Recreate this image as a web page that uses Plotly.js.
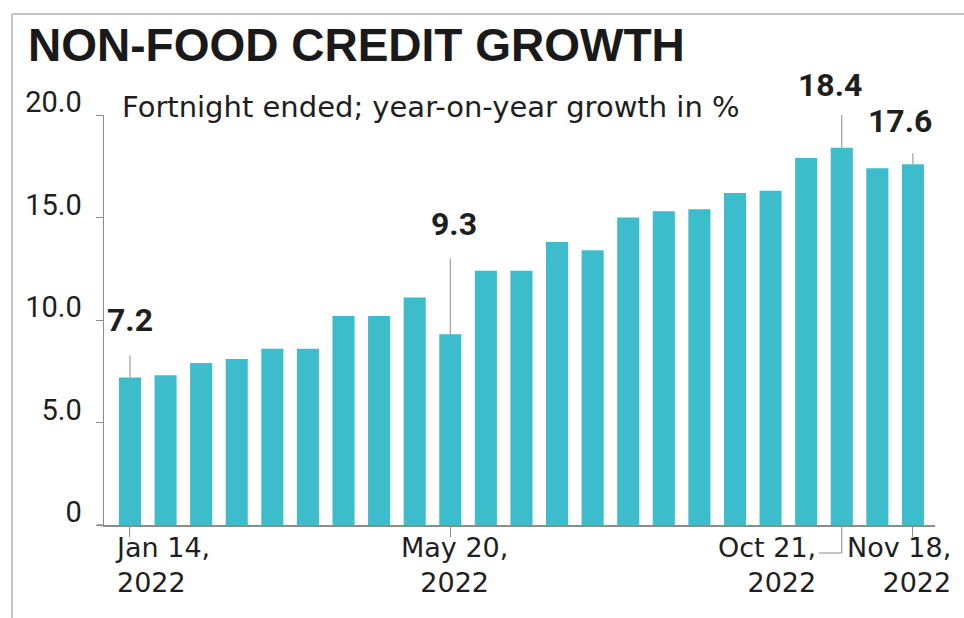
<!DOCTYPE html>
<html>
<head>
<meta charset="utf-8">
<script src="https://cdn.plot.ly/plotly-3.0.1.min.js"></script>
<style>html,body{margin:0;padding:0;background:#fff;}#chart{width:964px;height:618px;}</style>
</head>
<body>
<div id="chart"></div>
<script>
// ---- data ----
const categories = ["Jan 14, 2022","Jan 28, 2022","Feb 11, 2022","Feb 25, 2022","Mar 11, 2022","Mar 25, 2022",
  "Apr 8, 2022","Apr 22, 2022","May 6, 2022","May 20, 2022","Jun 3, 2022","Jun 17, 2022","Jul 1, 2022",
  "Jul 15, 2022","Jul 29, 2022","Aug 12, 2022","Aug 26, 2022","Sep 9, 2022","Sep 23, 2022","Oct 7, 2022",
  "Oct 21, 2022","Nov 4, 2022","Nov 18, 2022"];
const growth = [7.2, 7.3, 7.9, 8.1, 8.6, 8.6, 10.2, 10.2, 11.1, 9.3, 12.4, 12.4, 13.8,
  13.4, 15.0, 15.3, 15.4, 16.2, 16.3, 17.9, 18.4, 17.4, 17.6];
const calloutDates = ["Jan 14, 2022","May 20, 2022","Oct 21, 2022","Nov 18, 2022"];
const axisLabelDates = ["Jan 14, 2022","May 20, 2022","Oct 21, 2022","Nov 18, 2022"];
const axisLabelText = ["Jan 14,<br>2022","May 20,<br>2022","Oct 21,<br>2022","Nov 18,<br>2022"];
const yTickVals = [0, 5, 10, 15, 20];
const yTickText = ["0", "5.0", "10.0", "15.0", "20.0"];
const titleText = "NON-FOOD CREDIT GROWTH";
const subtitleText = "Fortnight ended; year-on-year growth in %";

// ---- styling / placement (not data) ----
const barColor = "#3dbccc";
const lineGrey = "#8c8c8c";
const textDark = "#1e1e1e";
const calloutStyle = {
  "Jan 14, 2022": {xshift: 0, yshift: 36, lead: 22},
  "May 20, 2022": {xshift: 4, yshift: 89, lead: 76},
  "Oct 21, 2022": {xshift: -12, yshift: 42, lead: 35},
  "Nov 18, 2022": {xshift: -13, yshift: 22, lead: 11}
};
const axisLabelStyle = {
  "Jan 14, 2022": {xanchor: "left", align: "left", xshift: -17},
  "May 20, 2022": {xanchor: "center", align: "center", xshift: 4},
  "Oct 21, 2022": {xanchor: "right", align: "right", xshift: -24},
  "Nov 18, 2022": {xanchor: "right", align: "right", xshift: 40}
};

// plot-area pixel geometry
const W = 964, H = 618, L = 104, R = 935, T = 115, B = 525;
const pw = R - L, ph = B - T;
const px = v => (v - L) / pw;
const py = v => (B - v) / ph;

const trace = {
  type: "bar",
  x: categories,
  y: growth,
  marker: {color: barColor},
  hoverinfo: "x+y"
};

const annotations = [];
const shapes = [];

calloutDates.forEach(d => {
  const i = categories.indexOf(d);
  const v = growth[i];
  const s = calloutStyle[d];
  annotations.push({
    x: i, y: v, xref: "x", yref: "y", text: v.toFixed(1), showarrow: false,
    xanchor: "center", yanchor: "bottom", xshift: s.xshift, yshift: s.yshift,
    font: {family: "Roboto, sans-serif", size: 32, weight: 700, color: textDark}
  });
  shapes.push({
    type: "line", xref: "x", yref: "y", ysizemode: "pixel", yanchor: v,
    x0: i, x1: i, y0: 0, y1: s.lead, line: {color: lineGrey, width: 1}
  });
});

axisLabelDates.forEach((d, k) => {
  const i = categories.indexOf(d);
  const s = axisLabelStyle[d];
  annotations.push({
    x: i, y: 0, xref: "x", yref: "paper", text: axisLabelText[k], showarrow: false,
    xanchor: s.xanchor, yanchor: "top", align: s.align, xshift: s.xshift, yshift: -5,
    font: {family: "DejaVu Sans, sans-serif", size: 27, color: textDark}
  });
});

// Oct 21 bracket tick
const octI = categories.indexOf("Oct 21, 2022");
shapes.push({type: "line", xref: "x", yref: "paper", ysizemode: "pixel", yanchor: 0,
  x0: octI, x1: octI, y0: 0, y1: -28, line: {color: lineGrey, width: 1}});
shapes.push({type: "line", xref: "x", yref: "paper", ysizemode: "pixel", yanchor: 0,
  x0: octI, x1: octI - 23 / 35.59, y0: -28, y1: -28, line: {color: lineGrey, width: 1}});
// baseline stub left of y axis
shapes.push({type: "line", xref: "paper", yref: "paper", x0: px(97), x1: 0, y0: 0, y1: 0,
  line: {color: lineGrey, width: 1.5}});
// outer frame (left + top)
shapes.push({type: "line", xref: "paper", yref: "paper", x0: px(12), x1: px(12), y0: py(14), y1: py(620),
  line: {color: "#c4c4c4", width: 2}});
shapes.push({type: "line", xref: "paper", yref: "paper", x0: px(12), x1: px(966), y0: py(14), y1: py(14),
  line: {color: "#c4c4c4", width: 2}});

annotations.push({
  xref: "paper", yref: "paper", x: px(120), y: py(126), xanchor: "left", yanchor: "bottom",
  text: subtitleText, showarrow: false,
  font: {family: "DejaVu Sans, sans-serif", size: 29, color: textDark}
});

const layout = {
  width: W, height: H,
  margin: {l: L, r: W - R, t: T, b: H - B, pad: 0},
  paper_bgcolor: "#ffffff", plot_bgcolor: "#ffffff",
  showlegend: false,
  bargap: 0.38,
  title: {
    text: titleText, xref: "container", yref: "container",
    x: 28 / W, xanchor: "left", y: 1 - 29 / H, yanchor: "top",
    font: {family: "Liberation Sans, Arial, sans-serif", size: 46, weight: 700, color: "#1a1a1a"}
  },
  xaxis: {
    type: "category", range: [-0.73, 22.62], showgrid: false, zeroline: false,
    showline: true, linecolor: lineGrey, linewidth: 1.5,
    tickmode: "array", tickvals: [0, 9, 22].map(k => categories[k]),
    ticks: "outside", ticklen: 10, tickcolor: lineGrey, tickwidth: 1,
    showticklabels: false, fixedrange: true
  },
  yaxis: {
    range: [0, 20], showgrid: false, zeroline: false,
    showline: true, linecolor: lineGrey, linewidth: 1.5,
    tickmode: "array", tickvals: yTickVals, ticktext: yTickText,
    ticks: "outside", ticklen: 7, tickcolor: lineGrey, tickwidth: 1,
    ticklabelshift: -13, ticklabelstandoff: 8,
    tickfont: {family: "Roboto, sans-serif", size: 29, color: textDark},
    fixedrange: true
  },
  annotations: annotations,
  shapes: shapes
};

Plotly.newPlot("chart", [trace], layout, {displayModeBar: false, staticPlot: true});
</script>
</body>
</html>
